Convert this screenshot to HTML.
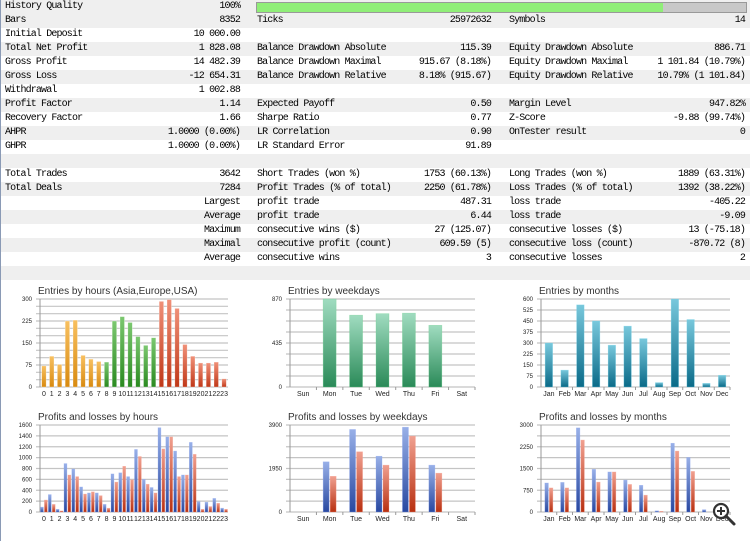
<!DOCTYPE html>
<html><head><meta charset="utf-8"><style>
body{margin:0;width:750px;height:541px;background:#fff;overflow:hidden;position:relative;font-family:"Liberation Mono",monospace;}
.r{position:absolute;left:0;width:750px;height:14px;font-size:10px;letter-spacing:-0.85px;line-height:14px;color:#000}
.g{background:#efefef}
.r span{position:absolute;white-space:pre}
.edge{position:absolute;left:0;top:0;width:1px;height:541px;background:#8a9ab5}
svg{position:absolute;left:0;top:0}
</style></head><body>
<div id="t"></div>
<div class="edge"></div>
<svg id="c" width="750" height="541" font-family="Liberation Sans, sans-serif"></svg>
<script>
var rows=[
["History Quality","100%","","","",""],
["Bars","8352","Ticks","25972632","Symbols","14"],
["Initial Deposit","10 000.00","","","",""],
["Total Net Profit","1 828.08","Balance Drawdown Absolute","115.39","Equity Drawdown Absolute","886.71"],
["Gross Profit","14 482.39","Balance Drawdown Maximal","915.67 (8.18%)","Equity Drawdown Maximal","1 101.84 (10.79%)"],
["Gross Loss","-12 654.31","Balance Drawdown Relative","8.18% (915.67)","Equity Drawdown Relative","10.79% (1 101.84)"],
["Withdrawal","1 002.88","","","",""],
["Profit Factor","1.14","Expected Payoff","0.50","Margin Level","947.82%"],
["Recovery Factor","1.66","Sharpe Ratio","0.77","Z-Score","-9.88 (99.74%)"],
["AHPR","1.0000 (0.00%)","LR Correlation","0.90","OnTester result","0"],
["GHPR","1.0000 (0.00%)","LR Standard Error","91.89","",""],
["","","","","",""],
["Total Trades","3642","Short Trades (won %)","1753 (60.13%)","Long Trades (won %)","1889 (63.31%)"],
["Total Deals","7284","Profit Trades (% of total)","2250 (61.78%)","Loss Trades (% of total)","1392 (38.22%)"],
["","Largest","profit trade","487.31","loss trade","-405.22"],
["","Average","profit trade","6.44","loss trade","-9.09"],
["","Maximum","consecutive wins ($)","27 (125.07)","consecutive losses ($)","13 (-75.18)"],
["","Maximal","consecutive profit (count)","609.59 (5)","consecutive loss (count)","-870.72 (8)"],
["","Average","consecutive wins","3","consecutive losses","2"],
["","","","","",""]];
var h="";
rows.forEach(function(r,i){
h+='<div class="r'+((i%2||i==0)?' g':'')+'" style="top:'+(i*14)+'px">'+
'<span style="left:5px">'+r[0]+'</span><span style="right:510px">'+r[1]+'</span>'+
'<span style="left:257px">'+r[2]+'</span><span style="right:259px">'+r[3]+'</span>'+
'<span style="left:509px">'+r[4]+'</span><span style="right:5px">'+r[5]+'</span></div>';});
h+='<div style="position:absolute;left:256px;top:2px;width:489px;height:9px;border:1px solid #999;background:#c8c8c8"><div style="width:406px;height:9px;background:#90ee78"></div></div>';
document.getElementById('t').innerHTML=h;

var s="",defs="";
function grad(id,a,b){defs+='<linearGradient id="'+id+'" x1="0" y1="0" x2="0" y2="1"><stop offset="0" stop-color="'+a+'"/><stop offset="1" stop-color="'+b+'"/></linearGradient>';}
grad("or","#f8c060","#d88a10");grad("gr","#7cc870","#2a8a20");grad("rd","#f09078","#c03818");
grad("wk","#a0dcc0","#2a8a58");grad("mo","#78c8dc","#0a6a88");grad("bl","#98b0e8","#2848a0");grad("pr","#f0a090","#b83010");
function chart(x0,x1,yt,yb,max,nd,labs,title,cats,series,bw,step){
 s+='<text x="'+(x0-2)+'" y="'+(yt-5)+'" font-size="10" fill="#333">'+title+'</text>';
 for(var i=0;i<=nd;i++){var y=yt+(yb-yt)*i/nd;s+='<line x1="'+(x0-4)+'" x2="'+x1+'" y1="'+y+'" y2="'+y+'" stroke="#c4c4c4" stroke-width="1.2"/>';}
 labs.forEach(function(l){var y=yb-(yb-yt)*l/max;s+='<text x="'+(x0-8)+'" y="'+(y+2)+'" font-size="6" text-anchor="end" fill="#222">'+l+'</text>';});
 s+='<line x1="'+x0+'" x2="'+x0+'" y1="'+yt+'" y2="'+yb+'" stroke="#999"/>';
 var n=cats.length,w=(x1-x0)/n;
 cats.forEach(function(c,i){var cx=x0+w*(i+.5);
  s+='<text x="'+cx+'" y="'+(yb+9)+'" font-size="7" text-anchor="middle" fill="#222">'+c+'</text>';
  if(step)s+='<line x1="'+(x0+w*(i+1))+'" x2="'+(x0+w*(i+1))+'" y1="'+yb+'" y2="'+(yb+3)+'" stroke="#999"/>';
  var k=series.length;
  series.forEach(function(se,j){var v=se.d[i];if(v==null||v<=0)return;var hh=(yb-yt)*v/max;
   var bx=cx-bw*k/2+bw*j+0.5;var col=typeof se.c=="function"?se.c(i):se.c;
   s+='<rect x="'+bx+'" y="'+(yb-hh)+'" width="'+(bw-1)+'" height="'+hh+'" fill="url(#'+col+')" stroke="'+se.s+'" stroke-opacity=".5" stroke-width=".6"/>';});
 });
}
var hrs=[];for(var i=0;i<24;i++)hrs.push(i);
chart(40,228,299,387,300,12,[0,75,150,225,300],"Entries by hours (Asia,Europe,USA)",hrs,
 [{d:[72,105,77,225,228,108,95,87,85,225,240,220,172,142,168,292,298,268,145,105,82,82,85,28],c:function(i){return i<8?"or":i<15?"gr":"rd"},s:"#fff"}],5.5,false);
var wd=["Sun","Mon","Tue","Wed","Thu","Fri","Sat"];
chart(290,475,299,387,870,8,[0,435,870],"Entries by weekdays",wd,[{d:[0,870,710,725,730,610,0],c:"wk",s:"#70d090"}],14,true);
var mn=["Jan","Feb","Mar","Apr","May","Jun","Jul","Aug","Sep","Oct","Nov","Dec"];
chart(541,730,299,387,600,8,[0,75,150,225,300,375,450,525,600],"Entries by months",mn,[{d:[300,115,560,450,285,415,330,30,600,460,25,80],c:"mo",s:"#80d8ec"}],8.5,true);
chart(40,228,425,512,1600,8,[0,200,400,600,800,1000,1200,1400,1600],"Profits and losses by hours",hrs,
 [{d:[90,320,50,890,790,460,350,350,140,700,720,650,1150,600,450,1550,1380,1120,680,1280,190,180,250,70],c:"bl",s:"#90a8f0"},
  {d:[220,140,20,680,650,330,370,300,70,550,840,590,1020,510,350,1160,1380,650,680,1060,50,100,160,50],c:"pr",s:"#f8a090"}],3.9,false);
chart(290,475,425,512,3900,8,[0,1950,3900],"Profits and losses by weekdays",wd,
 [{d:[0,2250,3700,2500,3800,2100,0],c:"bl",s:"#90a8f0"},{d:[0,1600,2700,2100,3400,1740,0],c:"pr",s:"#f8a090"}],7,true);
chart(541,730,425,512,3000,8,[0,750,1500,2250,3000],"Profits and losses by months",mn,
 [{d:[1000,1020,2900,1470,1380,1100,920,40,2370,1880,80,0],c:"bl",s:"#90a8f0"},{d:[830,830,2480,1030,1380,950,580,20,2100,1400,0,0],c:"pr",s:"#f8a090"}],4.5,true);
s+='<circle cx="721" cy="511" r="7" fill="#fff" stroke="#333" stroke-width="2.2"/><line x1="726" y1="516" x2="734" y2="524" stroke="#333" stroke-width="3" stroke-linecap="round"/><line x1="717" y1="511" x2="725" y2="511" stroke="#333" stroke-width="2"/><line x1="721" y1="507" x2="721" y2="515" stroke="#333" stroke-width="2"/>';
document.getElementById('c').innerHTML='<defs>'+defs+'</defs>'+s;
</script>
</body></html>
